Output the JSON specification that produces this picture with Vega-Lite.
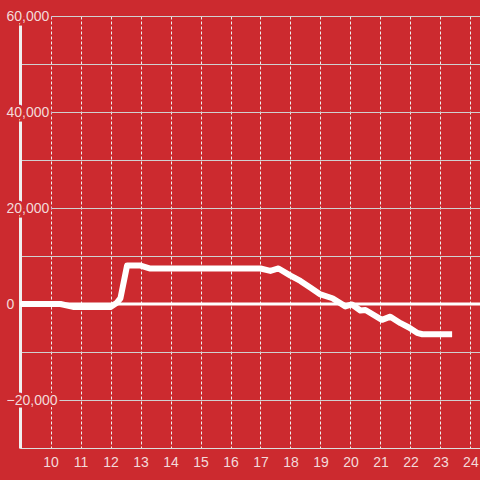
{
  "$schema": "https://vega.github.io/schema/vega-lite/v6.json",
  "width": 460,
  "height": 432,
  "autosize": {"type": "none"},
  "padding": {"left": 20, "top": 16, "right": 0, "bottom": 32},
  "background": "#CC2A2F",
  "config": {
    "view": {"stroke": null, "fill": "#CC2A2F"},
    "font": "Liberation Sans",
    "axisX": {"labelOverlap": false, "labelSeparation": 0}
  },
  "datasets": {
    "series": [
      {"hour": 9.0, "value": 0},
      {"hour": 10.33, "value": 0},
      {"hour": 10.75, "value": -600},
      {"hour": 12.0, "value": -600},
      {"hour": 12.2, "value": 200},
      {"hour": 12.33, "value": 1200},
      {"hour": 12.55, "value": 8000},
      {"hour": 13.0, "value": 8000},
      {"hour": 13.3, "value": 7400},
      {"hour": 17.0, "value": 7400},
      {"hour": 17.33, "value": 6900},
      {"hour": 17.6, "value": 7400},
      {"hour": 18.0, "value": 5900},
      {"hour": 18.33, "value": 4800},
      {"hour": 18.67, "value": 3400},
      {"hour": 19.0, "value": 2000},
      {"hour": 19.4, "value": 1200},
      {"hour": 19.83, "value": -500},
      {"hour": 20.05, "value": -100},
      {"hour": 20.33, "value": -1350},
      {"hour": 20.5, "value": -1250},
      {"hour": 21.05, "value": -3300},
      {"hour": 21.33, "value": -2640},
      {"hour": 21.67, "value": -4000},
      {"hour": 21.95, "value": -4900},
      {"hour": 22.22, "value": -6000},
      {"hour": 22.4, "value": -6300},
      {"hour": 23.39, "value": -6300}
    ],
    "ylabels": [
      {"v": -20000}, {"v": 0}, {"v": 20000}, {"v": 40000}, {"v": 60000}
    ],
    "zero": [{"v": 0}]
  },
  "layer": [
    {
      "data": {"name": "series"},
      "mark": {"type": "line", "color": "#ffffff", "strokeWidth": 6, "strokeJoin": "round", "clip": true},
      "encoding": {
        "x": {
          "field": "hour", "type": "quantitative",
          "scale": {"domain": [8.98, 24.32], "nice": false, "zero": false},
          "axis": {
            "title": null,
            "values": [10, 11, 12, 13, 14, 15, 16, 17, 18, 19, 20, 21, 22, 23, 24],
            "tickCount": 30,
            "format": "d",
            "ticks": false,
            "labelOverlap": false,
            "labelPadding": 7,
            "labelFontSize": 14,
            "labelColor": "#F3DADA",
            "labelFont": "Liberation Sans",
            "domainColor": "#DDDDDD",
            "domainWidth": 1,
            "grid": true,
            "gridColor": "#EEEEEE",
            "gridDash": [3, 2],
            "gridWidth": 1,
            "zindex": 0
          }
        },
        "y": {
          "field": "value", "type": "quantitative",
          "scale": {"domain": [-30000, 60000], "nice": false, "zero": false},
          "axis": {
            "title": null,
            "values": [-30000, -20000, -10000, 0, 10000, 20000, 30000, 40000, 50000, 60000],
            "tickCount": 20,
            "labels": false,
            "ticks": false,
            "domainColor": "#F0F0F0",
            "domainWidth": 3,
            "grid": true,
            "gridColor": "#D0D0D0",
            "gridWidth": 1,
            "zindex": 0
          }
        }
      }
    },
    {
      "data": {"name": "zero"},
      "mark": {"type": "rule", "color": "#FFFFFF", "strokeWidth": 3},
      "encoding": {"y": {"field": "v", "type": "quantitative"}}
    },
    {
      "data": {"name": "ylabels"},
      "mark": {"type": "text", "align": "left", "baseline": "middle", "dy": 1, "fontSize": 14, "font": "Liberation Sans", "fill": "#CC2A2F", "stroke": "#CC2A2F", "strokeWidth": 5, "clip": false},
      "encoding": {
        "x": {"datum": 8.53, "type": "quantitative"},
        "y": {"field": "v", "type": "quantitative"},
        "text": {"field": "v", "type": "quantitative", "format": ","}
      }
    },
    {
      "data": {"name": "ylabels"},
      "mark": {"type": "text", "align": "left", "baseline": "middle", "dy": 1, "fontSize": 14, "font": "Liberation Sans", "fill": "#F3DADA", "clip": false},
      "encoding": {
        "x": {"datum": 8.53, "type": "quantitative"},
        "y": {"field": "v", "type": "quantitative"},
        "text": {"field": "v", "type": "quantitative", "format": ","}
      }
    }
  ]
}
